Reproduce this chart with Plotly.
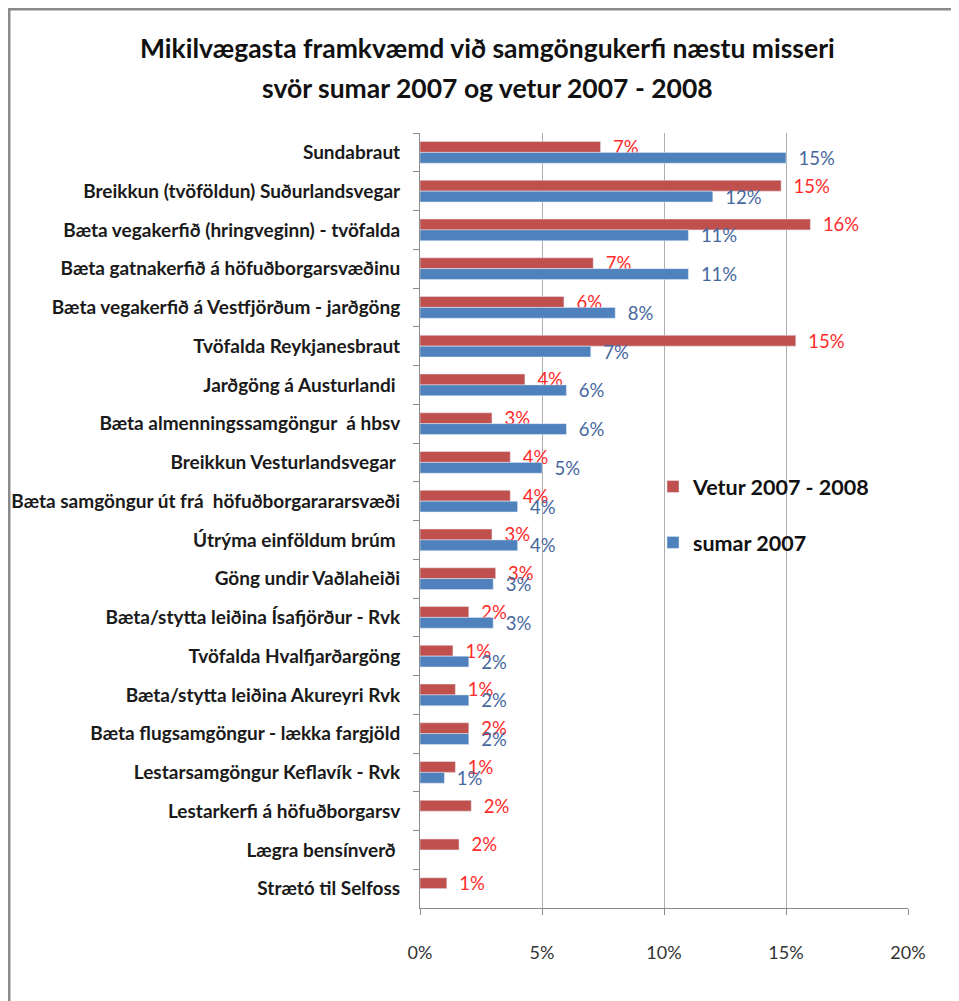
import plotly.graph_objects as go

categories = [
    "Sundabraut",
    "Breikkun (tvöföldun) Suðurlandsvegar",
    "Bæta vegakerfið (hringveginn) - tvöfalda",
    "Bæta gatnakerfið á höfuðborgarsvæðinu",
    "Bæta vegakerfið á Vestfjörðum - jarðgöng",
    "Tvöfalda Reykjanesbraut",
    "Jarðgöng á Austurlandi ",
    "Bæta almenningssamgöngur  á hbsv",
    "Breikkun Vesturlandsvegar ",
    "Bæta samgöngur út frá  höfuðborgarararsvæði",
    "Útrýma einföldum brúm ",
    "Göng undir Vaðlaheiði",
    "Bæta/stytta leiðina Ísafjörður - Rvk",
    "Tvöfalda Hvalfjarðargöng",
    "Bæta/stytta leiðina Akureyri Rvk",
    "Bæta flugsamgöngur - lækka fargjöld",
    "Lestarsamgöngur Keflavík - Rvk",
    "Lestarkerfi á höfuðborgarsv",
    "Lægra bensínverð ",
    "Strætó til Selfoss",
]

vetur = [0.074, 0.148, 0.160, 0.071, 0.059, 0.154, 0.043, 0.0295, 0.037, 0.037,
         0.0295, 0.031, 0.020, 0.0135, 0.0145, 0.020, 0.0145, 0.021, 0.016, 0.011]
sumar = [0.150, 0.120, 0.110, 0.110, 0.080, 0.070, 0.060, 0.060, 0.050, 0.040,
         0.040, 0.030, 0.030, 0.020, 0.020, 0.020, 0.010, None, None, None]

series_names = ["Vetur 2007 - 2008", "sumar 2007"]
x_ticks = [0, 0.05, 0.10, 0.15, 0.20]
x_ticklabels = ["0%", "5%", "10%", "15%", "20%"]
title_lines = ["Mikilvægasta framkvæmd við samgöngukerfi næstu misseri",
               "svör sumar 2007 og vetur 2007 - 2008"]

FONT = "Lato"
OFF = 8  # page body margin
W, H = 959 - OFF, 1001 - OFF
L, R, T, B = 420 - OFF, 51, 133 - OFF, 93
pw, ph = W - L - R, H - T - B


def px_x(p):
    return (p - OFF - L) / pw


def px_y(p):
    return (H - B - (p - OFF)) / ph


fig = go.Figure()
fig.add_trace(go.Bar(
    y=categories, x=vetur, orientation="h", name=series_names[0],
    marker=dict(color="#C0504D"),
    texttemplate="\u00a0\u00a0%{x:.0%}", textposition="outside",
    textfont=dict(family=FONT, size=18.5, color="#FF2A2A"),
    constraintext="none", cliponaxis=False, legendgroup="a",
    hoverinfo="skip",
))
fig.add_trace(go.Bar(
    y=categories, x=sumar, orientation="h", name=series_names[1],
    marker=dict(color="#4F81BD"),
    texttemplate="\u00a0\u00a0%{x:.0%}", textposition="outside",
    textfont=dict(family=FONT, size=18.5, color="#46679E"),
    constraintext="none", cliponaxis=False, legendgroup="b",
    hoverinfo="skip",
))

fig.update_layout(
    width=W, height=H,
    margin=dict(l=L, r=R, t=T, b=B, autoexpand=False),
    paper_bgcolor="white", plot_bgcolor="white",
    barmode="group", bargap=0.44, bargroupgap=0.0,
    font=dict(family=FONT, color="#1a1a1a"),
    showlegend=True,
    legend=dict(
        x=px_x(653), y=px_y(466), xanchor="left", yanchor="top",
        bgcolor="rgba(0,0,0,0)", tracegroupgap=25,
        font=dict(family=FONT, size=21.5, color="#111111", weight="bold"),
        itemwidth=30,
    ),
)

fig.update_xaxes(
    range=[0, 0.20], tickvals=x_ticks, ticktext=x_ticklabels,
    showgrid=True, gridcolor="#AEAEAE", gridwidth=1,
    showline=True, linecolor="#8C8C8C", linewidth=1,
    ticks="outside", ticklen=6, tickcolor="#8C8C8C",
    ticklabelstandoff=22,
    tickfont=dict(family=FONT, size=18, color="#333333"),
    zeroline=False, fixedrange=True,
)
fig.update_yaxes(
    autorange="reversed", tickson="boundaries",
    showgrid=False, showline=True, linecolor="#8C8C8C", linewidth=1,
    ticks="outside", ticklen=6, tickcolor="#8C8C8C",
    ticklabelstandoff=15,
    tickfont=dict(family=FONT, size=19, color="#1a1a1a", weight="bold"),
    fixedrange=True,
)

# Title as two centred lines
for txt, yp in zip(title_lines, [48, 88]):
    fig.add_annotation(
        text=txt, xref="paper", yref="paper", x=px_x(487), y=px_y(yp),
        xanchor="center", yanchor="middle", showarrow=False,
        font=dict(family=FONT, size=26.5, color="#111111", weight="bold"),
    )

# Outer frame (top and left edges visible)
fig.add_shape(type="line", xref="paper", yref="paper",
              x0=px_x(8), x1=px_x(1000), y0=px_y(9), y1=px_y(9),
              line=dict(color="#8A8A8A", width=3))
fig.add_shape(type="line", xref="paper", yref="paper",
              x0=px_x(9), x1=px_x(9), y0=px_y(8), y1=px_y(1050),
              line=dict(color="#8A8A8A", width=3))

fig.write_html("out.html")
